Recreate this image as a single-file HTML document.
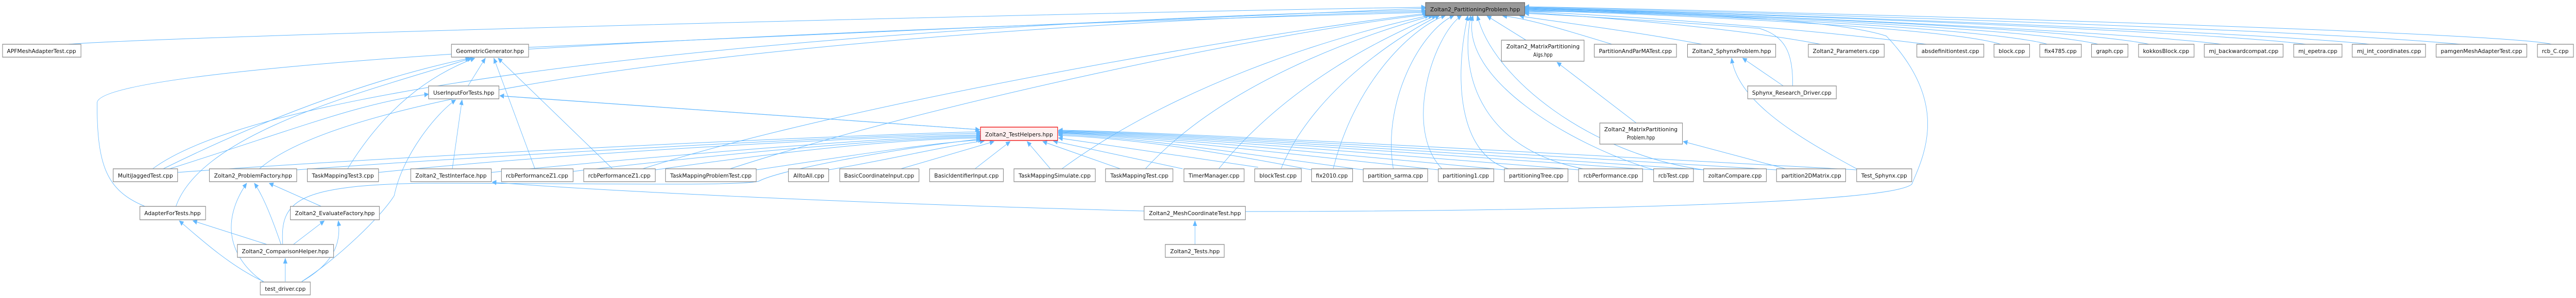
<!DOCTYPE html>
<html><head><meta charset="utf-8"><style>
html,body{margin:0;padding:0;background:#fff;width:100vw;height:100vh;overflow:hidden;}
svg{display:block;width:100vw;height:100vh;overflow:hidden;}
.n rect{fill:#fff;stroke:#888;stroke-width:1.3;}
.n text{font-family:"DejaVu Sans","Liberation Sans",sans-serif;font-size:10.5px;fill:#111;text-anchor:middle;}
.e path{fill:none;stroke:#63b8ff;stroke-width:1;}
</style></head><body>
<svg viewBox="0 0 6077 579" preserveAspectRatio="none" xmlns="http://www.w3.org/2000/svg">
<defs>
<marker id="a" markerWidth="11" markerHeight="10" refX="10" refY="5" orient="auto" markerUnits="userSpaceOnUse"><path d="M0,0 L11,5 L0,10 z" fill="#63b8ff"/></marker>
</defs>
<g class="e" marker-end="url(#a)">
<path d="M160,86 C400,70 2500,25 3363,14"/>
<path d="M1247,92 C1800,70 3000,30 3363,16"/>
<path d="M360,328 C700,120 2500,32 3363,20"/>
<path d="M612,328 C900,120 2600,36 3365,22"/>
<path d="M342,401 C250,370 229,320 229,200 C229,120 2000,55 3365,24"/>
<path d="M1516,328 C2000,200 3000,60 3367,26"/>
<path d="M1722,328 C2200,200 3000,62 3369,28"/>
<path d="M2505,328 C2800,150 3200,60 3372,30"/>
<path d="M2702,328 C2900,150 3250,60 3380,30"/>
<path d="M2875,328 C3050,150 3300,60 3388,30"/>
<path d="M3022,328 C3100,170 3320,60 3396,30"/>
<path d="M3145,328 C3200,150 3340,50 3410,30"/>
<path d="M3287,328 C3260,200 3350,60 3430,30"/>
<path d="M3402,328 C3310,250 3380,70 3448,30"/>
<path d="M3559,328 C3440,300 3430,150 3463,30"/>
<path d="M3735,328 C3500,290 3440,150 3470,30"/>
<path d="M3901,330 C3700,280 3440,150 3475,30"/>
<path d="M4020,330 C3750,300 3520,150 3485,30"/>
<path d="M3600,78 L3508,31"/>
<path d="M3803,86 C3700,60 3600,35 3545,31"/>
<path d="M4015,86 C3850,60 3650,40 3585,31"/>
<path d="M4229,167 C4230,100 4210,70 4150,55 C3900,40 3700,30 3597,26"/>
<path d="M4295,86 C4100,55 3800,35 3597,24"/>
<path d="M4545,86 C4200,50 3800,30 3597,22"/>
<path d="M4720,86 C4600,55 4000,30 3597,20"/>
<path d="M4830,86 C4700,55 4000,28 3597,19"/>
<path d="M4950,86 C4800,55 4000,26 3597,18"/>
<path d="M5070,86 C4900,55 4000,25 3597,17"/>
<path d="M5240,86 C5000,60 4000,24 3597,16"/>
<path d="M5440,86 C5200,60 4000,22 3597,16"/>
<path d="M5590,86 C5300,60 4000,22 3597,15"/>
<path d="M5805,86 C5400,55 4000,20 3597,14"/>
<path d="M6020,86 C5900,60 4000,18 3597,13"/>
<path d="M2938,411 C3500,411 4450,400 4510,358 C4540,300 4600,200 4450,70 C4300,30 3800,22 3597,22"/>
<path d="M1104,167 L1145,113"/>
<path d="M385,328 C700,200 950,140 1108,113"/>
<path d="M415,401 C480,250 900,170 1112,113"/>
<path d="M820,328 C900,220 1000,150 1120,113"/>
<path d="M1262,328 L1165,113"/>
<path d="M1445,328 L1175,113"/>
<path d="M400,328 C700,250 850,200 1011,183"/>
<path d="M1067,328 L1090,194"/>
<path d="M712,547 C800,500 900,420 930,380 C950,300 1030,220 1075,194"/>
<path d="M419,335 C1000,300 2000,262 2313,256"/>
<path d="M700,330 C1200,300 2000,264 2313,259"/>
<path d="M893,335 C1300,300 2000,266 2313,262"/>
<path d="M1159,335 C1600,300 2100,265 2313,264"/>
<path d="M1352,333 C1700,300 2100,268 2313,266"/>
<path d="M1546,330 C1800,300 2100,270 2313,268"/>
<path d="M1784,330 C1950,310 2200,276 2318,272"/>
<path d="M1955,330 C2100,310 2250,280 2322,274"/>
<path d="M2125,328 L2345,275"/>
<path d="M2300,328 L2383,275"/>
<path d="M2478,328 L2423,275"/>
<path d="M2643,328 L2460,275"/>
<path d="M2790,328 L2485,274"/>
<path d="M2968,325 L2497,268"/>
<path d="M3094,330 C2900,300 2700,270 2497,263"/>
<path d="M3216,330 C2900,295 2700,268 2497,261"/>
<path d="M3393,330 C3000,295 2700,266 2497,259"/>
<path d="M3549,330 C3100,295 2700,264 2497,258"/>
<path d="M3724,330 C3200,295 2700,262 2497,257"/>
<path d="M3901,330 C3300,295 2700,260 2497,256"/>
<path d="M4019,330 C3400,295 2700,258 2497,255"/>
<path d="M4191,330 C3500,295 2700,256 2497,254"/>
<path d="M4380,330 C3600,295 2700,254 2497,253"/>
<path d="M667,475 C660,390 700,360 1000,356 C1400,356 1750,362 1790,352 C1840,330 2100,290 2313,270"/>
<path d="M663,475 C640,420 620,380 600,356"/>
<path d="M620,547 C540,500 520,430 582,356"/>
<path d="M758,401 L635,356"/>
<path d="M622,547 C550,520 480,470 423,429"/>
<path d="M630,475 L455,429"/>
<path d="M692,475 L765,429"/>
<path d="M712,547 C790,510 805,470 798,429"/>
<path d="M673,547 L673,502"/>
<path d="M2699,410 C2000,395 1400,370 1161,354"/>
<path d="M2819,475 L2819,429"/>
<path d="M3860,239 L3673,121"/>
<path d="M4213,328 L3971,275"/>
<path d="M4207,167 L4111,113"/>
<path d="M4380,328 C4250,270 4100,200 4085,113"/>
<path d="M2313,252 L1179,186"/>
<path d="M1190,187 L2311,252"/>
</g>
<g class="n">
<rect x="3363" y="5" width="234" height="25" style="fill:#999;stroke:#666"/><text x="3480" y="22" textLength="212" lengthAdjust="spacingAndGlyphs">Zoltan2_PartitioningProblem.hpp</text>
<rect x="6" y="86" width="185" height="25"/><text x="98" y="103" textLength="163" lengthAdjust="spacingAndGlyphs">APFMeshAdapterTest.cpp</text>
<rect x="1065" y="86" width="182" height="25"/><text x="1156" y="103" textLength="160" lengthAdjust="spacingAndGlyphs">GeometricGenerator.hpp</text>
<rect x="3542" y="78" width="195" height="41"/><text x="3640" y="94" textLength="173" lengthAdjust="spacingAndGlyphs">Zoltan2_MatrixPartitioning</text><text x="3640" y="110">Algs.hpp</text>
<rect x="3761" y="86" width="194" height="25"/><text x="3858" y="103" textLength="172" lengthAdjust="spacingAndGlyphs">PartitionAndParMATest.cpp</text>
<rect x="3981" y="86" width="208" height="25"/><text x="4085" y="103" textLength="186" lengthAdjust="spacingAndGlyphs">Zoltan2_SphynxProblem.hpp</text>
<rect x="4266" y="86" width="179" height="25"/><text x="4355" y="103" textLength="157" lengthAdjust="spacingAndGlyphs">Zoltan2_Parameters.cpp</text>
<rect x="4522" y="86" width="158" height="25"/><text x="4601" y="103" textLength="136" lengthAdjust="spacingAndGlyphs">absdefinitiontest.cpp</text>
<rect x="4704" y="86" width="84" height="25"/><text x="4746" y="103" textLength="62" lengthAdjust="spacingAndGlyphs">block.cpp</text>
<rect x="4812" y="86" width="98" height="25"/><text x="4861" y="103" textLength="76" lengthAdjust="spacingAndGlyphs">fix4785.cpp</text>
<rect x="4934" y="86" width="86" height="25"/><text x="4977" y="103" textLength="64" lengthAdjust="spacingAndGlyphs">graph.cpp</text>
<rect x="5045" y="86" width="131" height="25"/><text x="5110" y="103" textLength="109" lengthAdjust="spacingAndGlyphs">kokkosBlock.cpp</text>
<rect x="5200" y="86" width="186" height="25"/><text x="5293" y="103" textLength="164" lengthAdjust="spacingAndGlyphs">mj_backwardcompat.cpp</text>
<rect x="5411" y="86" width="114" height="25"/><text x="5468" y="103" textLength="92" lengthAdjust="spacingAndGlyphs">mj_epetra.cpp</text>
<rect x="5549" y="86" width="173" height="25"/><text x="5636" y="103" textLength="151" lengthAdjust="spacingAndGlyphs">mj_int_coordinates.cpp</text>
<rect x="5747" y="86" width="214" height="25"/><text x="5854" y="103" textLength="192" lengthAdjust="spacingAndGlyphs">pamgenMeshAdapterTest.cpp</text>
<rect x="5986" y="86" width="85" height="25"/><text x="6028" y="103" textLength="63" lengthAdjust="spacingAndGlyphs">rcb_C.cpp</text>
<rect x="1011" y="167" width="166" height="25"/><text x="1094" y="184" textLength="144" lengthAdjust="spacingAndGlyphs">UserInputForTests.hpp</text>
<rect x="4123" y="167" width="209" height="25"/><text x="4227" y="184" textLength="187" lengthAdjust="spacingAndGlyphs">Sphynx_Research_Driver.cpp</text>
<rect x="2313" y="247" width="182" height="26" style="fill:#fff0f0;stroke:#e00"/><text x="2404" y="265" textLength="160" lengthAdjust="spacingAndGlyphs">Zoltan2_TestHelpers.hpp</text>
<rect x="3774" y="239" width="195" height="41"/><text x="3871" y="255" textLength="173" lengthAdjust="spacingAndGlyphs">Zoltan2_MatrixPartitioning</text><text x="3871" y="271">Problem.hpp</text>
<rect x="267" y="328" width="152" height="25"/><text x="343" y="345" textLength="130" lengthAdjust="spacingAndGlyphs">MultiJaggedTest.cpp</text>
<rect x="494" y="328" width="206" height="25"/><text x="597" y="345" textLength="184" lengthAdjust="spacingAndGlyphs">Zoltan2_ProblemFactory.hpp</text>
<rect x="725" y="328" width="168" height="25"/><text x="809" y="345" textLength="146" lengthAdjust="spacingAndGlyphs">TaskMappingTest3.cpp</text>
<rect x="969" y="328" width="190" height="25"/><text x="1064" y="345" textLength="168" lengthAdjust="spacingAndGlyphs">Zoltan2_TestInterface.hpp</text>
<rect x="1183" y="328" width="169" height="25"/><text x="1267" y="345" textLength="147" lengthAdjust="spacingAndGlyphs">rcbPerformanceZ1.cpp</text>
<rect x="1377" y="328" width="169" height="25"/><text x="1461" y="345" textLength="147" lengthAdjust="spacingAndGlyphs">rcbPerformanceZ1.cpp</text>
<rect x="1570" y="328" width="214" height="25"/><text x="1677" y="345" textLength="192" lengthAdjust="spacingAndGlyphs">TaskMappingProblemTest.cpp</text>
<rect x="1860" y="328" width="95" height="25"/><text x="1908" y="345" textLength="73" lengthAdjust="spacingAndGlyphs">AlltoAll.cpp</text>
<rect x="1981" y="328" width="187" height="25"/><text x="2074" y="345" textLength="165" lengthAdjust="spacingAndGlyphs">BasicCoordinateInput.cpp</text>
<rect x="2193" y="328" width="174" height="25"/><text x="2280" y="345" textLength="152" lengthAdjust="spacingAndGlyphs">BasicIdentifierInput.cpp</text>
<rect x="2392" y="328" width="192" height="25"/><text x="2488" y="345" textLength="170" lengthAdjust="spacingAndGlyphs">TaskMappingSimulate.cpp</text>
<rect x="2608" y="328" width="159" height="25"/><text x="2688" y="345" textLength="137" lengthAdjust="spacingAndGlyphs">TaskMappingTest.cpp</text>
<rect x="2793" y="328" width="142" height="25"/><text x="2864" y="345" textLength="120" lengthAdjust="spacingAndGlyphs">TimerManager.cpp</text>
<rect x="2960" y="328" width="110" height="25"/><text x="3015" y="345" textLength="88" lengthAdjust="spacingAndGlyphs">blockTest.cpp</text>
<rect x="3094" y="328" width="97" height="25"/><text x="3142" y="345" textLength="75" lengthAdjust="spacingAndGlyphs">fix2010.cpp</text>
<rect x="3216" y="328" width="152" height="25"/><text x="3292" y="345" textLength="130" lengthAdjust="spacingAndGlyphs">partition_sarma.cpp</text>
<rect x="3393" y="328" width="131" height="25"/><text x="3458" y="345" textLength="109" lengthAdjust="spacingAndGlyphs">partitioning1.cpp</text>
<rect x="3549" y="328" width="150" height="25"/><text x="3624" y="345" textLength="128" lengthAdjust="spacingAndGlyphs">partitioningTree.cpp</text>
<rect x="3724" y="328" width="151" height="25"/><text x="3800" y="345" textLength="129" lengthAdjust="spacingAndGlyphs">rcbPerformance.cpp</text>
<rect x="3901" y="328" width="94" height="25"/><text x="3948" y="345" textLength="72" lengthAdjust="spacingAndGlyphs">rcbTest.cpp</text>
<rect x="4019" y="328" width="148" height="25"/><text x="4093" y="345" textLength="126" lengthAdjust="spacingAndGlyphs">zoltanCompare.cpp</text>
<rect x="4191" y="328" width="163" height="25"/><text x="4273" y="345" textLength="141" lengthAdjust="spacingAndGlyphs">partition2DMatrix.cpp</text>
<rect x="4380" y="328" width="130" height="25"/><text x="4445" y="345" textLength="108" lengthAdjust="spacingAndGlyphs">Test_Sphynx.cpp</text>
<rect x="330" y="401" width="155" height="26"/><text x="407" y="418" textLength="133" lengthAdjust="spacingAndGlyphs">AdapterForTests.hpp</text>
<rect x="685" y="401" width="210" height="26"/><text x="790" y="418" textLength="188" lengthAdjust="spacingAndGlyphs">Zoltan2_EvaluateFactory.hpp</text>
<rect x="2699" y="401" width="239" height="26"/><text x="2819" y="418" textLength="217" lengthAdjust="spacingAndGlyphs">Zoltan2_MeshCoordinateTest.hpp</text>
<rect x="560" y="475" width="227" height="25"/><text x="673" y="492" textLength="205" lengthAdjust="spacingAndGlyphs">Zoltan2_ComparisonHelper.hpp</text>
<rect x="2749" y="475" width="139" height="25"/><text x="2819" y="492" textLength="117" lengthAdjust="spacingAndGlyphs">Zoltan2_Tests.hpp</text>
<rect x="614" y="548" width="118" height="25"/><text x="673" y="565" textLength="96" lengthAdjust="spacingAndGlyphs">test_driver.cpp</text>
</g>
</svg>
</body></html>
